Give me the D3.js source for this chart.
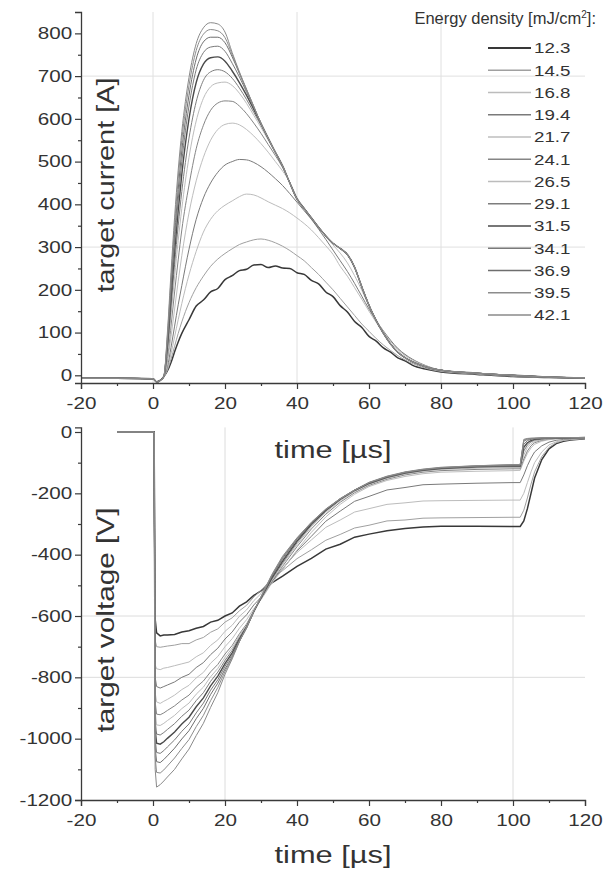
<!DOCTYPE html>
<html><head><meta charset="utf-8">
<script src="https://cdn.jsdelivr.net/npm/d3@7"></script>
<style>
body{margin:0;background:#fff;}
text{font-family:"Liberation Sans",Arial,sans-serif;fill:#333;}
</style>
</head><body>
<svg id="c" width="611" height="878"></svg>
<script>
// ---------- data ----------
const energies = ["12.3","14.5","16.8","19.4","21.7","24.1","26.5","29.1","31.5","34.1","36.9","39.5","42.1"];
const seriesColors = ["#383838","#a0a0a0","#bcbcbc","#7a7a7a","#bebebe","#858585","#bcbcbc","#7d7d7d","#4a4a4a","#7a7a7a","#6e6e6e","#8c8c8c","#8a8a8a"];
const seriesWidths = [1.5,1,1,1,1,1,1,1,1.4,1,1,1,1];

const xTicks = [-20,0,20,40,60,80,100,120];
const xMinor = [-10,10,30,50,70,90,110];
const iTicks = [0,100,200,300,400,500,600,700,800];
const iMinor = [50,150,250,350,450,550,650,750];
const vTicks = [-1200,-1000,-800,-600,-400,-200,0];
const vMinor = [-1100,-900,-700,-500,-300,-100];

// time axis of current traces [µs]
const timeI = [-20,-10,0,1,2,3,4,5,6,7,8,10,12,14,16,18,20,22,24,26,28,30,32,34,36,38,40,42,44,46,48,50,52,54,56,58,60,62,64,66,68,70,72,76,80,90,100,110,120];
// target current [A]
const I_12_3 = [-7,-7,-8,-15,-12,-3,10,30,55,78,98,130,162,176,195,203,224,233,245,248,258,259,252,256,251,250,240,236,222,214,195,184,163,148,126,112,91,80,64,54,41,34,24,14,8,2,-3,-5,-7];
const I_14_5 = [-7,-7,-8,-16,-12,-3,12,38,68,98,125,170,205,232,255,272,285,296,306,312,317,319,316,310,302,292,280,268,252,236,218,200,180,160,140,120,103,86,71,58,46,36,28,16,9,3,-2,-5,-7];
const I_16_8 = [-7,-7,-8,-16,-12,-3,15,50,90,130,168,235,290,335,365,385,398,408,418,424,422,415,406,398,390,380,368,355,340,322,303,283,255,232,205,178,150,124,100,80,62,48,37,21,12,4,-1,-5,-7];
const I_19_4 = [-7,-7,-8,-16,-12,-3,20,65,115,165,210,295,365,415,450,475,492,500,505,504,498,488,475,460,444,425,405,385,365,342,318,293,268,243,215,185,155,128,104,82,63,49,38,22,12,4,-1,-5,-7];
const I_21_7 = [-7,-7,-8,-16,-12,-3,30,90,155,220,280,380,455,510,550,575,587,590,586,575,560,542,522,500,478,452,416,392,370,348,326,305,286,263,233,199,162,130,102,79,60,46,36,21,12,4,0,-4,-7];
const I_24_1 = [-7,-7,-8,-16,-12,-3,40,115,195,270,340,445,530,585,620,637,642,641,630,612,590,566,540,514,486,451,414,391,369,347,327,309,296,281,251,206,163,128,99,74,55,42,32,19,12,5,0,-4,-6];
const I_26_5 = [-7,-7,-8,-16,-12,-3,50,140,230,315,390,510,595,648,675,684,686,678,660,636,608,580,550,520,488,450,413,391,369,347,327,309,297,282,252,206,164,128,98,74,54,41,32,19,12,5,0,-4,-6];
const I_29_1 = [-7,-7,-8,-16,-12,-3,60,160,260,350,430,555,640,690,710,715,710,695,672,645,615,585,553,521,489,450,413,391,368,346,326,309,297,282,253,207,164,128,98,73,54,41,32,19,12,5,0,-4,-6];
const I_31_5 = [-7,-7,-8,-16,-12,-3,70,180,290,385,470,600,685,728,743,745,735,712,685,655,622,589,555,522,490,450,412,390,368,346,326,309,297,283,253,207,164,128,98,73,54,41,32,19,12,5,0,-4,-6];
const I_34_1 = [-7,-7,-8,-16,-12,-3,78,195,310,410,500,630,715,755,768,770,758,730,698,662,626,590,555,522,490,450,412,390,368,346,326,309,297,282,253,207,164,128,98,73,54,41,32,19,12,5,0,-4,-6];
const I_36_9 = [-7,-7,-8,-16,-12,-3,85,210,330,435,525,655,740,780,791,791,778,745,706,667,628,589,555,522,490,450,412,390,368,346,326,309,297,282,253,207,164,128,98,73,54,41,32,19,12,5,0,-4,-6];
const I_39_5 = [-7,-7,-8,-16,-12,-3,92,225,350,460,550,678,760,798,809,806,790,750,708,668,629,589,555,522,490,450,412,390,368,346,326,309,297,282,253,207,164,128,98,73,54,41,32,19,12,5,0,-4,-6];
const I_42_1 = [-7,-7,-8,-16,-12,-3,100,240,370,480,570,697,776,813,825,822,803,755,710,669,629,589,555,522,490,450,412,390,368,346,326,309,297,282,253,207,164,128,98,73,54,41,32,19,12,5,0,-4,-6];

// time axis of voltage traces [µs]
const timeV = [-10,0.3,0.6,1,2,3,4,6,8,10,12,14,16,18,20,22,24,26,28,30,33,36,40,44,48,52,56,60,65,70,75,80,90,100,102,103,104,105,106,108,110,112,114,116,120];
// target voltage [V]
const V_12_3 = [0,0,-610,-655,-665,-662,-662,-660,-652,-648,-640,-634,-620,-614,-600,-590,-568,-554,-533,-518,-492,-470,-438,-412,-382,-366,-343,-333,-322,-315,-310,-307,-307,-308,-308,-290,-250,-200,-150,-90,-55,-38,-30,-26,-22];
const V_14_5 = [0,0,-680,-700,-702,-700,-698,-695,-690,-690,-678,-670,-653,-642,-620,-606,-583,-565,-538,-517,-478,-452,-413,-384,-353,-334,-313,-304,-290,-287,-281,-280,-279,-278,-278,-255,-215,-170,-130,-80,-50,-35,-28,-25,-21];
const V_16_8 = [0,0,-760,-772,-775,-770,-768,-762,-756,-750,-733,-720,-696,-678,-650,-630,-601,-580,-550,-527,-480,-444,-393,-352,-311,-287,-261,-250,-236,-231,-225,-224,-223,-222,-222,-200,-165,-130,-100,-65,-42,-32,-27,-24,-21];
const V_19_4 = [0,0,-800,-830,-835,-830,-825,-815,-800,-790,-768,-752,-726,-705,-675,-652,-620,-596,-564,-539,-488,-447,-388,-340,-291,-258,-226,-210,-189,-181,-172,-170,-167,-165,-165,-140,-110,-85,-65,-45,-33,-27,-24,-22,-20];
const V_21_7 = [0,0,-850,-880,-885,-878,-872,-858,-840,-826,-802,-784,-754,-732,-700,-674,-640,-612,-576,-547,-493,-448,-385,-327,-277,-236,-203,-178,-158,-145,-136,-131,-128,-126,-125,-95,-70,-52,-40,-30,-25,-23,-22,-21,-20];
const V_24_1 = [0,0,-880,-920,-922,-916,-908,-893,-874,-858,-832,-812,-782,-758,-724,-696,-658,-626,-582,-544,-488,-438,-374,-316,-268,-229,-198,-174,-154,-140,-131,-126,-122,-120,-120,-88,-62,-45,-35,-27,-23,-21,-20,-20,-19];
const V_26_5 = [0,0,-910,-955,-957,-950,-941,-924,-902,-884,-855,-832,-798,-771,-735,-704,-664,-630,-584,-543,-484,-432,-367,-309,-262,-224,-194,-171,-151,-137,-128,-122,-118,-116,-116,-75,-50,-38,-31,-25,-22,-21,-20,-20,-19];
const V_29_1 = [0,0,-940,-985,-988,-980,-970,-951,-927,-907,-876,-850,-813,-783,-745,-712,-670,-633,-585,-542,-480,-427,-361,-304,-258,-221,-192,-169,-149,-135,-126,-120,-115,-113,-113,-62,-42,-32,-27,-23,-21,-20,-20,-19,-19];
const V_31_5 = [0,0,-970,-1015,-1018,-1010,-999,-978,-952,-930,-896,-867,-828,-796,-755,-720,-675,-636,-586,-541,-476,-421,-356,-300,-255,-219,-190,-167,-147,-133,-124,-118,-113,-111,-111,-50,-35,-28,-24,-21,-20,-19,-19,-19,-18];
const V_34_1 = [0,0,-1000,-1045,-1048,-1039,-1027,-1004,-976,-952,-916,-884,-842,-808,-764,-727,-679,-638,-586,-540,-472,-416,-351,-297,-253,-218,-189,-166,-146,-132,-123,-117,-112,-110,-110,-40,-28,-24,-22,-20,-19,-19,-18,-18,-18];
const V_36_9 = [0,0,-1030,-1075,-1078,-1068,-1056,-1031,-1001,-974,-935,-901,-856,-819,-773,-733,-683,-640,-586,-539,-469,-411,-348,-296,-253,-219,-190,-166,-146,-132,-123,-117,-111,-108,-108,-30,-24,-22,-21,-20,-19,-19,-18,-18,-18];
const V_39_5 = [0,0,-1060,-1110,-1112,-1102,-1089,-1063,-1032,-1003,-961,-924,-876,-833,-781,-736,-683,-638,-584,-538,-467,-408,-346,-295,-252,-218,-190,-165,-145,-131,-122,-116,-110,-107,-107,-26,-22,-21,-20,-19,-19,-18,-18,-18,-18];
const V_42_1 = [0,0,-1100,-1158,-1150,-1138,-1125,-1100,-1066,-1034,-990,-950,-898,-850,-790,-740,-684,-637,-583,-537,-465,-405,-345,-294,-251,-217,-189,-164,-144,-130,-121,-115,-110,-106,-106,-24,-21,-20,-20,-19,-19,-18,-18,-18,-18];

const currentSeries = [I_12_3,I_14_5,I_16_8,I_19_4,I_21_7,I_24_1,I_26_5,I_29_1,I_31_5,I_34_1,I_36_9,I_39_5,I_42_1];
const voltageSeries = [V_12_3,V_14_5,V_16_8,V_19_4,V_21_7,V_24_1,V_26_5,V_29_1,V_31_5,V_34_1,V_36_9,V_39_5,V_42_1];

// ---------- drawing ----------
const svg = d3.select("#c");
const ink = "#3a3a3a";
const STRETCH = 1.25;

const x = d3.scaleLinear().domain([-20,120]).range([81,585]);
const yI = d3.scaleLinear().domain([-18,850]).range([383,12]);
const yV = d3.scaleLinear().domain([-1200,15]).range([800,427.4]);

function grid(g, xs, ys, yScale, col){
  xs.forEach(v=>g.append("line").attr("x1",x(v)).attr("x2",x(v))
     .attr("y1",yScale.range()[0]).attr("y2",yScale.range()[1]).attr("stroke",col).attr("stroke-width",1));
  ys.forEach(v=>g.append("line").attr("x1",x(-20)).attr("x2",x(120))
     .attr("y1",yScale(v)).attr("y2",yScale(v)).attr("stroke",col).attr("stroke-width",1));
}
grid(svg.append("g"), [0,40,80], [300,700], yI, "#e0e0e0");
grid(svg.append("g"), [20,100], [-600,-800], yV, "#dcdcdc");

const lineI = d3.line().x((d,i)=>x(timeI[i])).y(d=>yI(d)).curve(d3.curveMonotoneX);
const lineV = d3.line().x((d,i)=>x(timeV[i])).y(d=>yV(d)).curve(d3.curveLinear);

const gI = svg.append("g");
currentSeries.forEach((s,k)=>gI.append("path").attr("d",lineI(s)).attr("fill","none")
  .attr("stroke",seriesColors[k]).attr("stroke-width",seriesWidths[k]));
const gV = svg.append("g");
voltageSeries.forEach((s,k)=>gV.append("path").attr("d",lineV(s)).attr("fill","none")
  .attr("stroke",seriesColors[k]).attr("stroke-width",seriesWidths[k]));

function styleAxis(g){
  g.select(".domain").attr("stroke",ink).attr("stroke-width",1.3);
  g.selectAll(".tick line").attr("stroke",ink).attr("stroke-width",1.2);
  g.selectAll("text").attr("font-size",16.5).style("font-family",'"Liberation Sans",Arial,sans-serif').attr("fill","#333");
}
function addAxes(yScale, yTicks, yMinor, xAxisY){
  const gx = svg.append("g").attr("transform",`translate(0,${xAxisY})`)
    .call(d3.axisBottom(x).tickValues(xTicks).tickSize(6).tickPadding(8).tickFormat(d=>String(d)));
  styleAxis(gx);
  gx.selectAll("text").attr("transform",`scale(${STRETCH},1)`);
  const gxm = svg.append("g").attr("transform",`translate(0,${xAxisY})`)
    .call(d3.axisBottom(x).tickValues(xMinor).tickSize(3).tickFormat(""));
  styleAxis(gxm); gxm.select(".domain").remove();

  const gy = svg.append("g").attr("transform",`translate(${x(-20)},0)`)
    .call(d3.axisLeft(yScale).tickValues(yTicks).tickSize(6).tickPadding(1).tickFormat(d=>String(d)));
  styleAxis(gy);
  gy.selectAll("text").attr("transform",`scale(${STRETCH},1)`);
  const gym = svg.append("g").attr("transform",`translate(${x(-20)},0)`)
    .call(d3.axisLeft(yScale).tickValues(yMinor).tickSize(3).tickFormat(""));
  styleAxis(gym); gym.select(".domain").remove();
}
addAxes(yI, iTicks, iMinor, yI(-18));
addAxes(yV, vTicks, vMinor, yV(-1200));

// axis titles
function title(txt, cx, cy, rot, len, size){
  const t = svg.append("text").attr("font-size",size).attr("text-anchor","middle")
    .attr("transform",`translate(${cx},${cy}) rotate(${rot})`)
    .attr("textLength",len).attr("lengthAdjust","spacingAndGlyphs").attr("fill","#2e2e2e");
  t.text(txt);
  return t;
}
title("target current [A]", 114, 185, -90, 215, 23);
title("target voltage [V]", 114, 620, -90, 225, 23);
title("time [µs]", 333, 458, 0, 117, 23);
title("time [µs]", 333, 863, 0, 117, 23);

// legend
const leg = svg.append("g");
const lt = leg.append("text").attr("x",596).attr("y",24).attr("text-anchor","end")
  .attr("font-size",16.5).attr("fill","#333");
lt.append("tspan").text("Energy density [mJ/cm");
lt.append("tspan").text("2").attr("font-size",10).attr("dy",-6);
lt.append("tspan").text("]:").attr("dy",6);
const rowY = d3.scaleLinear().domain([0,12]).range([48,315]);
energies.forEach((e,k)=>{
  const yy = rowY(k);
  leg.append("line").attr("x1",488).attr("x2",531).attr("y1",yy).attr("y2",yy)
    .attr("stroke",seriesColors[k]).attr("stroke-width",seriesWidths[k]+0.3);
  leg.append("text").attr("x",534/STRETCH).attr("y",yy+5.5).attr("font-size",15)
    .attr("transform",`scale(${STRETCH},1)`).attr("fill","#333").text(e);
});
</script>
</body></html>
